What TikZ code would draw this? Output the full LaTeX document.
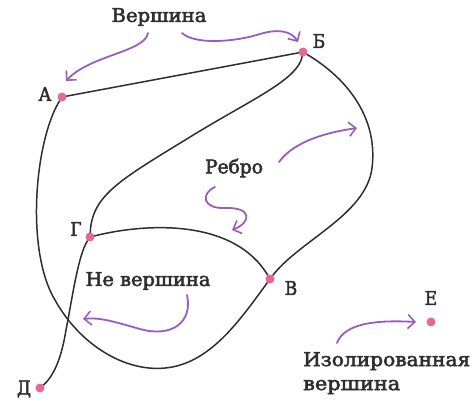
\documentclass[tikz,border=0pt]{standalone}
\usepackage{fontspec}
\usepackage{graphicx}
\newfontfamily\lblfont[FakeBold=2.5]{DejaVu Serif Condensed}
\usetikzlibrary{arrows.meta}
\definecolor{vert}{HTML}{E8679A}
\definecolor{arr}{HTML}{9A5CC0}
\definecolor{ink}{HTML}{2E2E2E}
\newcommand{\fitw}[2]{\resizebox{#1pt}{\height}{#2}}
\tikzset{
  vtx/.style={circle,fill=vert,inner sep=0pt,minimum size=8pt},
  lbl/.style={text=ink,font=\lblfont\fontsize{19}{24}\selectfont,inner sep=0pt},
  edge/.style={draw=ink,line width=1.5pt},
  pointer/.style={draw=arr,line width=1.8pt,line cap=round,-{Straight Barb[length=7pt,width=14pt,line width=1.6pt]}}
}
\begin{document}
\begin{tikzpicture}[x=1pt,y=-1pt]
\useasboundingbox (0,0) rectangle (473,405);
% vertices
\node[vtx] (A) at (62,97) {};
\node[vtx] (B) at (303,52) {};
\node[vtx] (G) at (90,237) {};
\node[vtx] (V) at (270,279) {};
\node[vtx] (D) at (40,388) {};
\node[vtx] (E) at (431,322) {};
% vertex labels
\node[lbl] (lA) at (45,94) {А};
\node[lbl] (lB) at (319,41) {Б};
\node[lbl] (lG) at (76,229) {Г};
\node[lbl] (lV) at (291,288) {В};
\node[lbl] (lD) at (24,389) {Д};
\node[lbl] (lE) at (431,298) {Е};
% texts
\node[lbl] (t1) at (159,17) {\fitw{95}{Вершина}};
\node[lbl] (t2) at (234,168) {\fitw{58}{Ребро}};
\node[lbl] (t3) at (148,281) {\fitw{125}{Не вершина}};
\node[lbl,anchor=north west,align=left] (t4) at (303,352) {\fitw{167}{Изолированная}\\\fitw{97}{вершина}};
% edges
\draw[edge] (A) -- (B);
\draw[edge] (B) .. controls (350,80) and (378,120) .. (372,168) .. controls (366,215) and (300,240) .. (V);
\draw[edge] (B) .. controls (298,80) and (250,100) .. (190,137) .. controls (120,180) and (92,195) .. (G);
\draw[edge] (G) .. controls (150,222) and (235,220) .. (V);
\draw[edge] (A) .. controls (35,140) and (25,250) .. (55,300) .. controls (80,345) and (125,372) .. (165,368) .. controls (210,364) and (240,320) .. (V);
\draw[edge] (G) .. controls (78,255) and (72,300) .. (66,330) .. controls (62,355) and (55,375) .. (D);
% redraw dots on top
\foreach \n in {A,B,G,V,D,E}{\fill[vert] (\n) circle (4.5pt);}
% pointers
\coordinate (a1s) at (148,33); \coordinate (a1e) at (66,81);
\coordinate (a2s) at (182,33); \coordinate (a2e) at (298,42);
\coordinate (a3s) at (279,162); \coordinate (a3e) at (357,128);
\coordinate (a4s) at (215,187); \coordinate (a4e) at (232,230);
\coordinate (a5s) at (187,295); \coordinate (a5e) at (83,319);
\coordinate (a6s) at (337,343); \coordinate (a6e) at (416,322);
\draw[pointer] (a1s) .. controls (145,52) and (90,55) .. (a1e);
\draw[pointer] (a2s) .. controls (195,45) and (235,42) .. (260,34) .. controls (280,28) and (292,32) .. (a2e);
\draw[pointer] (a3s) .. controls (295,140) and (330,132) .. (a3e);
\draw[pointer] (a4s) .. controls (200,194) and (203,209) .. (225,208) .. controls (252,207) and (252,222) .. (a4e);
\draw[pointer] (a5s) .. controls (193,322) and (172,338) .. (140,329) .. controls (115,322) and (100,317) .. (a5e);
\draw[pointer] (a6s) .. controls (345,322) and (380,320) .. (a6e);
\end{tikzpicture}
\end{document}
